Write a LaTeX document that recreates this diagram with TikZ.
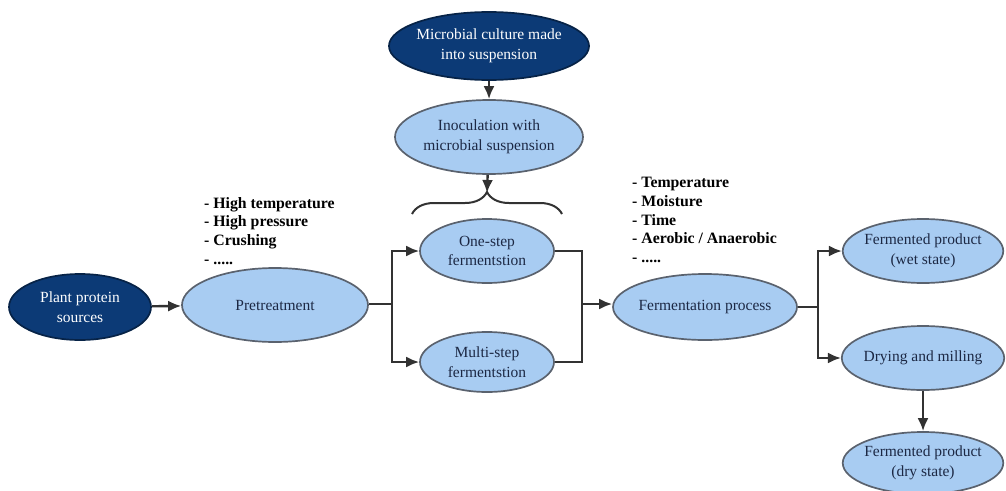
\documentclass[tikz,border=0pt]{standalone}
\usepackage{fontspec}
\setmainfont{Liberation Serif}
\usetikzlibrary{shapes.geometric,arrows.meta,decorations.pathreplacing}
\definecolor{darkfill}{RGB}{12,58,118}
\definecolor{lightfill}{RGB}{168,204,242}
\definecolor{lightborder}{RGB}{90,98,110}
\definecolor{nodetext}{RGB}{28,40,68}
\definecolor{linecol}{RGB}{50,50,50}
\tikzset{
  base/.style={ellipse, inner sep=-2pt, align=center,
    font=\fontsize{15.5}{19.5}\selectfont, line width=1.7pt},
  darknode/.style={base, fill=darkfill, draw=darkfill!60!black, text=white},
  lightnode/.style={base, fill=lightfill, draw=lightborder, text=nodetext},
  arr/.style={line width=2.4pt, draw=linecol, -{Latex[length=13pt,width=11pt]}},
  ln/.style={line width=2.4pt, draw=linecol},
  notes/.style={align=left, anchor=north west, inner sep=0pt,
    font=\fontsize{15.8}{18.8}\selectfont\bfseries}
}
\begin{document}
\begin{tikzpicture}[x=1pt,y=-1pt]
\useasboundingbox (0,0) rectangle (1006,490);
% nodes
\node[darknode, minimum width=198pt, minimum height=68pt] (mc) at (489,46) {Microbial culture made\\into suspension};
\node[lightnode, minimum width=188pt, minimum height=74pt] (inoc) at (489,137) {Inoculation with\\microbial suspension};
\node[darknode, minimum width=142pt, minimum height=66pt] (plant) at (80,307) {Plant protein\\sources};
\node[lightnode, minimum width=186pt, minimum height=74pt] (pre) at (275,305) {Pretreatment};
\node[lightnode, minimum width=134pt, minimum height=64pt] (one) at (487,251) {One-step\\fermentstion};
\node[lightnode, minimum width=134pt, minimum height=60pt] (multi) at (487,362) {Multi-step\\fermentstion};
\node[lightnode, minimum width=184pt, minimum height=66pt] (ferm) at (705,307) {Fermentation process};
\node[lightnode, minimum width=158pt, minimum height=64pt] (wet) at (923,251) {Fermented product\\(wet state)};
\node[lightnode, minimum width=160pt, minimum height=64pt] (dry) at (923,358) {Drying and milling};
\node[lightnode, minimum width=160pt, minimum height=62pt] (drys) at (923,463) {Fermented product\\(dry state)};
% notes
\node[notes] (n1) at (204,197) {- High temperature\\- High pressure\\- Crushing\\- .....};
\node[notes] (n2) at (632,177) {- Temperature\\- Moisture\\- Time\\- Aerobic / Anaerobic\\- .....};
% brace
\draw[ln, line width=2pt, decorate, decoration={brace, amplitude=22pt}] (412,214) -- (562,214);
\coordinate (btip) at (487,193);
% junctions
\coordinate (j1) at (392,304);
\coordinate (j2) at (582,304);
\coordinate (j3) at (818,307);
% connectors
\draw[arr] (mc) -- (inoc);
\draw[arr] (inoc) -- (btip);
\draw[arr] (plant) -- (pre);
\draw[ln] (pre.east |- j1) -- (j1);
\draw[arr] (j1) |- (one);
\draw[arr] (j1) |- (multi);
\draw[ln] (one) -| (j2);
\draw[ln] (multi) -| (j2);
\draw[arr] (j2) -- (ferm.west |- j2);
\draw[ln] (ferm) -- (j3);
\draw[arr] (j3) |- (wet);
\draw[arr] (j3) |- (dry);
\draw[arr] (dry) -- (drys);
\end{tikzpicture}
\end{document}
